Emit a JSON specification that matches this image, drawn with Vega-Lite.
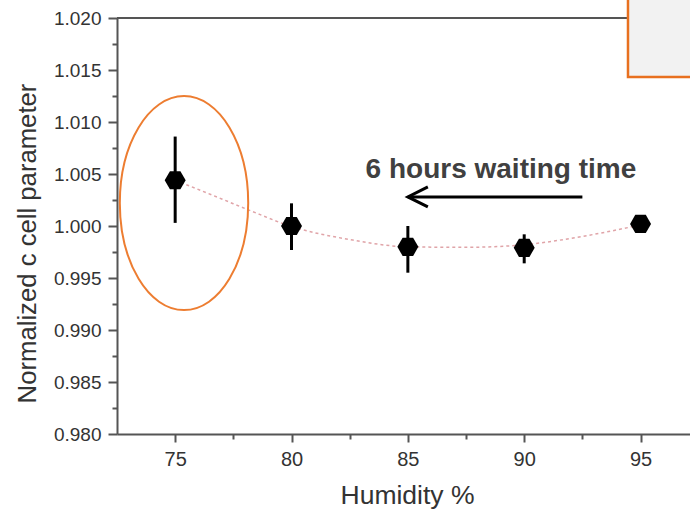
{
  "$schema": "https://vega.github.io/schema/vega-lite/v6.json",
  "width": 573,
  "height": 416,
  "autosize": {"type": "none"},
  "padding": {"left": 117, "top": 18, "right": 0, "bottom": 75},
  "background": "white",
  "config": {
    "view": {"stroke": null},
    "font": "Liberation Sans",
    "axis": {"grid": false}
  },
  "datasets": {
    "pts": [
      {"h": 75, "c": 1.0044, "lo": 1.0003, "hi": 1.0086},
      {"h": 80, "c": 1.0000, "lo": 0.99769, "hi": 1.00218},
      {"h": 85, "c": 0.9980, "lo": 0.99551, "hi": 1.0000},
      {"h": 90, "c": 0.9979, "lo": 0.99641, "hi": 0.9992},
      {"h": 95, "c": 1.0002, "lo": 0.9999, "hi": 1.0005}
    ],
    "fit": [
      {"h": 75, "f": 1.0044},
      {"h": 77, "f": 1.0026},
      {"h": 78.2, "f": 1.0015},
      {"h": 80, "f": 0.99995},
      {"h": 82.5, "f": 0.9987},
      {"h": 85, "f": 0.9980},
      {"h": 87.5, "f": 0.99795},
      {"h": 90, "f": 0.9982},
      {"h": 92.5, "f": 0.9990},
      {"h": 95, "f": 1.0001}
    ]
  },
  "resolve": {"axis": {"x": "independent", "y": "independent"}},
  "layer": [
    {
      "data": {"name": "pts"},
      "mark": {"type": "rule", "color": "black", "strokeWidth": 3},
      "encoding": {
        "x": {
          "field": "h", "type": "quantitative",
          "scale": {"domain": [72.5, 97.125], "nice": false, "zero": false},
          "axis": {
            "orient": "bottom",
            "values": [75, 80, 85, 90, 95],
            "domainColor": "#555555", "domainWidth": 2,
            "tickColor": "#555555", "tickWidth": 2, "tickSize": 8,
            "labelFontSize": 20, "labelColor": "#333333", "labelPadding": 7,
            "labelFont": "Liberation Sans",
            "title": "Humidity %", "titleFontSize": 26.5, "titleFontWeight": "normal",
            "titleColor": "#333333", "titleFont": "Liberation Sans",
            "titleBaseline": "alphabetic", "titleY": 69, "titleX": 290
          }
        },
        "y": {
          "field": "lo", "type": "quantitative",
          "scale": {"domain": [0.98, 1.02], "nice": false, "zero": false},
          "axis": {
            "orient": "left",
            "values": [0.98, 0.985, 0.99, 0.995, 1.0, 1.005, 1.01, 1.015, 1.02],
            "format": ".3f",
            "domainColor": "#555555", "domainWidth": 2,
            "tickColor": "#555555", "tickWidth": 2, "tickSize": 9,
            "labelFontSize": 19, "labelColor": "#333333", "labelPadding": 7,
            "labelFont": "Liberation Sans",
            "title": "Normalized c cell parameter", "titleFontSize": 25.7,
            "titleFontWeight": "normal", "titleColor": "#333333", "titleFont": "Liberation Sans",
            "titleBaseline": "alphabetic", "titleX": -82, "titleY": 225
          }
        },
        "y2": {"field": "hi"}
      }
    },
    {
      "data": {"name": "fit"},
      "mark": {"type": "line", "color": "#e0a4a8", "strokeWidth": 1.5, "strokeDash": [3, 3], "interpolate": "monotone"},
      "encoding": {
        "x": {
          "field": "h", "type": "quantitative",
          "axis": {
            "orient": "bottom", "values": [77.5, 82.5, 87.5, 92.5],
            "labels": false, "domain": false, "title": null,
            "tickColor": "#555555", "tickWidth": 2, "tickSize": 5
          }
        },
        "y": {
          "field": "f", "type": "quantitative",
          "axis": {
            "orient": "left", "values": [0.9825, 0.9875, 0.9925, 0.9975, 1.0025, 1.0075, 1.0125, 1.0175],
            "labels": false, "domain": false, "title": null,
            "tickColor": "#555555", "tickWidth": 2, "tickSize": 5
          }
        }
      }
    },
    {
      "data": {"name": "pts"},
      "mark": {"type": "point", "filled": true, "color": "black", "opacity": 1, "size": 441,
        "shape": "M-1,0L-0.5,-0.866L0.5,-0.866L1,0L0.5,0.866L-0.5,0.866Z"},
      "encoding": {
        "x": {"field": "h", "type": "quantitative", "axis": null},
        "y": {"field": "c", "type": "quantitative", "axis": null}
      }
    },
    {
      "data": {"values": [{"x1": 72.5, "x2": 97.125, "y": 1.02}]},
      "mark": {"type": "rule", "color": "#555555", "strokeWidth": 2},
      "encoding": {
        "x": {"field": "x1", "type": "quantitative", "axis": null},
        "x2": {"field": "x2"},
        "y": {"field": "y", "type": "quantitative", "axis": null}
      }
    },
    {
      "data": {"values": [{"x1": 85.0, "x2": 92.5, "y": 1.0028}]},
      "mark": {"type": "rule", "color": "black", "strokeWidth": 3},
      "encoding": {
        "x": {"field": "x1", "type": "quantitative", "axis": null},
        "x2": {"field": "x2"},
        "y": {"field": "y", "type": "quantitative", "axis": null}
      }
    },
    {
      "data": {"values": [{"x": 85.0, "y": 1.0028}]},
      "mark": {"type": "point", "filled": false, "color": "black", "strokeWidth": 3, "opacity": 1,
        "size": 400, "shape": "M2,-1L0,0L2,1"},
      "encoding": {
        "x": {"field": "x", "type": "quantitative", "axis": null},
        "y": {"field": "y", "type": "quantitative", "axis": null}
      }
    },
    {
      "data": {"values": [{"x": 89.0, "y": 1.0046, "t": "6 hours waiting time"}]},
      "mark": {"type": "text", "font": "Liberation Sans", "fontWeight": "bold", "fontSize": 28,
        "color": "#404040", "align": "center", "baseline": "alphabetic"},
      "encoding": {
        "x": {"field": "x", "type": "quantitative", "axis": null},
        "y": {"field": "y", "type": "quantitative", "axis": null},
        "text": {"field": "t"}
      }
    },
    {
      "data": {"values": [{"x": 75.38, "y": 1.0022}]},
      "mark": {"type": "point", "filled": false, "color": "#ED7D31", "strokeWidth": 2, "opacity": 1,
        "size": 45796, "shape": "M-0.6,0A0.6,1,0,1,0,0.6,0A0.6,1,0,1,0,-0.6,0Z"},
      "encoding": {
        "x": {"field": "x", "type": "quantitative", "axis": null},
        "y": {"field": "y", "type": "quantitative", "axis": null}
      }
    },
    {
      "data": {"values": [{"x1": 94.46, "x2": 97.3, "y1": 1.01433, "y2": 1.0219}]},
      "mark": {"type": "rect", "fill": "#f2f2f2", "stroke": "#E8701F", "strokeWidth": 2.5},
      "encoding": {
        "x": {"field": "x1", "type": "quantitative", "axis": null},
        "x2": {"field": "x2"},
        "y": {"field": "y1", "type": "quantitative", "axis": null},
        "y2": {"field": "y2"}
      }
    }
  ]
}
